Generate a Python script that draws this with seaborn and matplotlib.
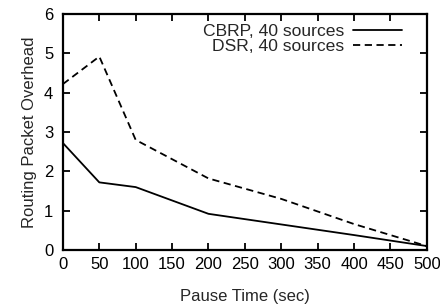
import matplotlib
matplotlib.use('Agg')
from matplotlib import pyplot as plt
import seaborn as sns
import pandas as pd

pause_time = [0, 50, 100, 200, 300, 400, 500]
cbrp_overhead = [2.72, 1.72, 1.60, 0.92, 0.65, 0.38, 0.10]
dsr_overhead = [4.22, 4.92, 2.80, 1.82, 1.30, 0.66, 0.10]
series_names = ['CBRP, 40 sources', 'DSR, 40 sources']

sns.set_theme(style='ticks')
plt.rcParams['font.family'] = ['Liberation Sans', 'DejaVu Sans']

df = pd.DataFrame({
    'pause': pause_time * 2,
    'overhead': cbrp_overhead + dsr_overhead,
    'protocol': [series_names[0]] * len(pause_time) + [series_names[1]] * len(pause_time),
})

fig = plt.figure(figsize=(4.4, 3.06), dpi=100)
ax = fig.add_axes([0.143, 0.183, 0.827, 0.771])

sns.lineplot(data=df, x='pause', y='overhead', hue='protocol', style='protocol',
             palette=['black', 'black'], dashes=[(), (4, 2.5)], linewidth=1.3,
             ax=ax, legend=True)

ax.set_xlim(0, 500)
ax.set_ylim(0, 6)
ax.set_xticks(range(0, 501, 50))
ax.set_yticks(range(0, 7))
ax.tick_params(direction='in', length=5, width=1.3, top=True, right=True,
               labelsize=12, colors='black')
ax.tick_params(axis='x', pad=5)
ax.tick_params(axis='y', pad=7)
for s in ax.spines.values():
    s.set_linewidth(1.6)
    s.set_color('black')
ax.set_xlabel('Pause Time (sec)', fontsize=12, labelpad=12)
ax.set_ylabel('Routing Packet Overhead', fontsize=12, labelpad=5)

handles, labels = ax.get_legend_handles_labels()
ax.legend(handles, labels, loc='upper right', bbox_to_anchor=(0.931, 0.96),
          markerfirst=False, frameon=False, fontsize=12.6, handlelength=2.8,
          handletextpad=0.5, labelspacing=0.0, borderaxespad=0, borderpad=0)

plt.savefig('out.png', dpi=100)
